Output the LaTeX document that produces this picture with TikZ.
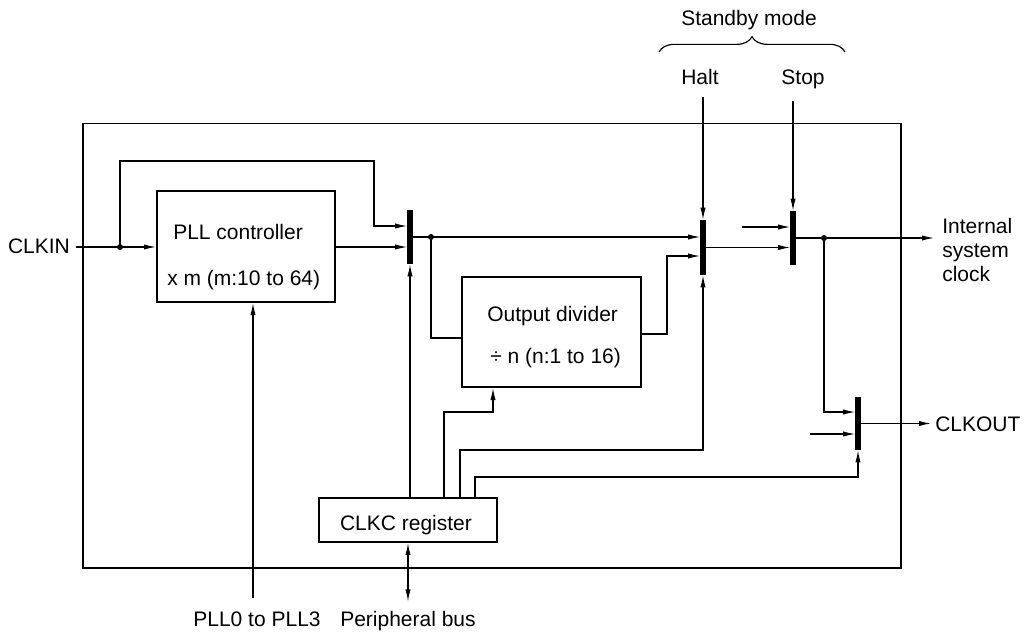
\documentclass[tikz,border=0pt]{standalone}
\usepackage{fontspec}
\setmainfont{Liberation Sans}
\usetikzlibrary{arrows.meta,decorations.pathreplacing}
\begin{document}
\begin{tikzpicture}[x=0.75pt,y=-0.75pt,
  font=\fontsize{15.75}{18}\selectfont,
  ln/.style={line width=0.85pt},
  arr/.style={ln,-{Latex[length=9pt,width=3.9pt]}},
  dblarr/.style={ln,{Latex[length=9pt,width=3.9pt]}-{Latex[length=9pt,width=3.9pt]}},
  blk/.style={draw,line width=1.5pt,inner sep=0pt},
  bar/.style={fill=black,inner sep=0pt,minimum width=3.8pt},
  txt/.style={inner sep=0pt},
  jdot/.style={circle,fill=black,inner sep=0pt,minimum size=4.5pt}]
\useasboundingbox (0,0) rectangle (1024,633);

% frame
\node[draw,ln,inner sep=0pt,minimum width=613.5pt,minimum height=333.4pt] (frame) at (492,345.75) {};

% blocks
\node[blk,minimum width=133.5pt,minimum height=83.25pt] (pll) at (246,246.5) {};
\node[txt,anchor=base west] (pllA) at (173,239) {PLL controller};
\node[txt,anchor=base west] (pllB) at (167,285) {x m (m:10 to 64)};

\node[blk,minimum width=134.25pt,minimum height=82.5pt] (od) at (551.5,332) {};
\node[txt,anchor=base west] (odA) at (487,321.7) {Output divider};
\node[txt,anchor=base west] (odB) at (490,363) {÷ n (n:1 to 16)};

\node[blk,minimum width=133.5pt,minimum height=33pt] (clkc) at (408,520) {};
\node[txt,anchor=base] (clkcA) at (406,530) {CLKC register};

% selector bars
\node[bar,minimum height=40.5pt] (m1) at (410,237) {};
\node[bar,minimum height=41.25pt] (m2) at (703,247.5) {};
\node[bar,minimum height=40.5pt] (m3) at (793,238) {};
\node[bar,minimum height=39.75pt] (m4) at (858,423.5) {};

% labels
\node[txt,inner xsep=4pt,anchor=base east] (clkin) at (75.5,253) {CLKIN};
\node[txt,inner ysep=9.5pt,anchor=base] (halt) at (700,84) {Halt};
\node[txt,inner ysep=9.5pt,anchor=base] (stop) at (803,84) {Stop};
\node[txt,anchor=base] (standby) at (749,25) {Standby mode};
\node[txt,inner xsep=6pt,align=left,anchor=west] (isc) at (934,250) {Internal\\system\\clock};
\node[txt,inner xsep=3pt,anchor=base west] (clkout) at (931,431) {CLKOUT};
\node[txt,inner ysep=10.3pt,anchor=base] (pllsel) at (257,626.7) {PLL0 to PLL3};
\node[txt,inner ysep=7.3pt,anchor=base] (pbus) at (408,626.7) {Peripheral bus};

% junction dots
\node[jdot] (d1) at (120,247) {};
\node[jdot] (d2) at (431,237) {};
\node[jdot] (d3) at (824,238) {};
\coordinate (m3in) at (742,227);
\coordinate (m4in) at (810,434);

% brace
\draw[ln,decorate,decoration={brace,amplitude=11.5pt}] (659,52) -- (845,52);

% connections
\draw[arr] (clkin.east |- 0,247) -- (pll.west |- 0,247);
\draw[arr] (d1.center) |- (374,161) |- (m1.west |- 0,226);
\draw[arr] (pll.east |- 0,247) -- (m1.west |- 0,247);
\draw[arr] (m1.east) -- (m2.west |- m1.east);
\draw[ln] (d2.center) |- (od.west |- 0,338);
\draw[arr] (od.east |- 0,334) -| (667,256) -- (m2.west |- 0,256);
\draw[arr] (halt.south -| m2.north) -- (m2.north);
\draw[arr] (stop.south -| m3.north) -- (m3.north);
\draw[arr] (m2.east) -- (m2.east -| m3.west);
\draw[arr] (m3in) -- (m3in -| m3.west);
\draw[arr] (m3.east) -- (m3.east -| isc.west);
\draw[arr] (d3.center) |- (m4.west |- 0,412);
\draw[arr] (m4in) -- (m4in -| m4.west);
\draw[arr] (m4.east) -- (m4.east -| clkout.west);

\draw[arr] (clkc.north -| m1.south) -- (m1.south);
\draw[arr] (clkc.north -| 444,0) |- (493,412) -- (od.south -| 493,0);
\draw[arr] (clkc.north -| 460,0) |- (m2.south |- 0,450) -- (m2.south);
\draw[arr] (clkc.north -| 475,0) |- (m4.south |- 0,477) -- (m4.south);
\draw[dblarr] (clkc.south) -- (pbus.north);
\draw[arr] (pllsel.north -| 253,0) -- (pll.south -| 253,0);
\end{tikzpicture}
\end{document}
